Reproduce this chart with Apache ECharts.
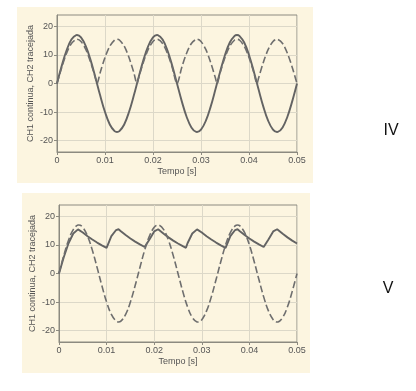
<!DOCTYPE html>
<html><head><meta charset="utf-8">
<script src="https://cdn.jsdelivr.net/npm/echarts@6/dist/echarts.min.js"></script>
<style>html,body{margin:0;padding:0;background:#fff}#c{width:416px;height:391px}</style>
</head><body><div id="c"></div>
<script>
// time samples (s), ~1 ms, with the peaks included
const timeSine = [0,0.001,0.002,0.003,0.004,0.00417,0.005,0.006,0.007,0.008,0.009,0.010,0.011,0.012,0.0125,0.013,0.014,0.015,0.016,0.017,0.018,0.019,0.020,0.02083,0.021,0.022,0.023,0.024,0.025,0.026,0.027,0.028,0.029,0.02917,0.030,0.031,0.032,0.033,0.034,0.035,0.036,0.037,0.0375,0.038,0.039,0.040,0.041,0.042,0.043,0.044,0.045,0.04583,0.046,0.047,0.048,0.049,0.050];
// sine input voltage (used as CH1 in IV, CH2 in V)
const sineInput = [0,6.26,11.64,15.38,16.97,17,16.17,13.10,8.19,2.13,-4.23,-9.99,-14.35,-16.70,-17,-16.70,-14.35,-9.99,-4.23,2.13,8.19,13.10,16.17,17,16.97,15.38,11.64,6.26,0,-6.26,-11.64,-15.38,-16.97,-17,-16.17,-13.10,-8.19,-2.13,4.23,9.99,14.35,16.70,17,16.70,14.35,9.99,4.23,-2.13,-8.19,-13.10,-16.17,-17,-16.97,-15.38,-11.64,-6.26,0];

// IV: CH2 rectified output
const timeRectIV = [0,0.001,0.002,0.003,0.004,0.00417,0.005,0.006,0.007,0.008,0.008333,0.009,0.010,0.011,0.012,0.0125,0.013,0.014,0.015,0.016,0.016667,0.017,0.018,0.019,0.020,0.02083,0.021,0.022,0.023,0.024,0.025,0.026,0.027,0.028,0.029,0.02917,0.030,0.031,0.032,0.033,0.033333,0.034,0.035,0.036,0.037,0.0375,0.038,0.039,0.040,0.041,0.041667,0.042,0.043,0.044,0.045,0.04583,0.046,0.047,0.048,0.049,0.050];
const rectIV = [0,5.71,10.61,14.02,15.47,15.5,14.74,11.94,7.47,1.94,0,3.85,9.11,13.09,15.23,15.5,15.23,13.09,9.11,3.85,0,1.94,7.47,11.94,14.74,15.5,15.47,14.02,10.61,5.71,0,5.71,10.61,14.02,15.47,15.5,14.74,11.94,7.47,1.94,0,3.85,9.11,13.09,15.23,15.5,15.23,13.09,9.11,3.85,0,1.94,7.47,11.94,14.74,15.5,15.47,14.02,10.61,5.71,0];

// V: CH1 filtered output
const timeFiltV = [0,0.001,0.002,0.003,0.004,0.00417,0.005,0.006,0.007,0.008,0.009,0.010,0.011,0.012,0.0125,0.013,0.014,0.015,0.016,0.017,0.018,0.01833,0.019,0.020,0.02083,0.021,0.022,0.023,0.024,0.025,0.026,0.02667,0.027,0.028,0.029,0.02917,0.030,0.031,0.032,0.033,0.034,0.035,0.036,0.037,0.0375,0.038,0.039,0.040,0.041,0.042,0.043,0.04333,0.044,0.045,0.04583,0.046,0.047,0.048,0.049,0.050];
const filtV = [0,5.71,10.61,14.02,15.47,15.5,14.34,13.07,11.90,10.84,9.87,9.0,13.09,15.23,15.5,14.79,13.47,12.27,11.18,10.19,9.28,9.0,11.94,14.74,15.5,15.25,13.89,12.66,11.53,10.51,9.58,9.0,10.61,14.02,15.47,15.5,14.34,13.07,11.90,10.84,9.87,9.0,13.09,15.23,15.5,14.79,13.47,12.27,11.18,10.19,9.28,9.0,11.94,14.74,15.5,15.25,13.89,12.66,11.53,10.51];

const yTicks = [-20,-10,0,10,20];
const xName = 'Tempo [s]';
const yName = 'CH1 continua, CH2 tracejada';
const panelLabels = ['IV','V'];

const zip = (t, v) => t.map((x, i) => [x, v[i]]);

const txt = '#555';
const axisCol = '#8c8a80';
const font = 'Liberation Sans, Arial, sans-serif';
function xAxisCfg(gi) {
  return {
    gridIndex: gi, type: 'value', min: 0, max: 0.05, interval: 0.01,
    name: xName, nameLocation: 'middle', nameGap: 15, nameMoveOverlap: false,
    nameTextStyle: { color: txt, fontSize: 9, fontFamily: font },
    axisLine: { show: true, onZero: false, lineStyle: { color: axisCol, width: 1 } },
    axisTick: { show: true, length: 3, lineStyle: { color: axisCol } },
    axisLabel: { color: txt, fontSize: 9, fontFamily: font, margin: 4,
      formatter: v => v === 0 ? '0' : v.toFixed(2) },
    splitLine: { show: true, lineStyle: { color: '#dcd8c8', width: 1 } }
  };
}
function yAxisCfg(gi) {
  return {
    gridIndex: gi, type: 'value', min: -24, max: 24,
    name: yName, nameLocation: 'middle', nameRotate: 90, nameGap: 22, nameMoveOverlap: false,
    nameTextStyle: { color: txt, fontSize: 9, fontFamily: font },
    axisLine: { show: true, onZero: false, lineStyle: { color: axisCol, width: 1 } },
    axisTick: { show: true, length: 3, customValues: yTicks, lineStyle: { color: axisCol } },
    axisLabel: { color: txt, fontSize: 9, fontFamily: font, margin: 4, customValues: yTicks },
    splitLine: { show: true, lineStyle: { color: '#dcd8c8', width: 1 } }
  };
}
const solid = { color: '#636363', width: 1.9, type: 'solid' };
const dashed = { color: '#6e6e6e', width: 1.6, type: [7, 3] };

const chart = echarts.init(document.getElementById('c'), null, { renderer: 'canvas' });
chart.setOption({
  animation: false,
  backgroundColor: '#ffffff',
  graphic: [
    { type: 'rect', z: -10, shape: { x: 17, y: 7, width: 296, height: 176 }, style: { fill: '#fcf5e0' } },
    { type: 'rect', z: -10, shape: { x: 22, y: 193, width: 288, height: 180 }, style: { fill: '#fcf5e0' } },
    { type: 'text', x: 391, y: 131, style: { text: panelLabels[0], fill: '#111', font: '16px Liberation Sans, Arial, sans-serif', align: 'center', verticalAlign: 'middle' } },
    { type: 'text', x: 388, y: 289, style: { text: panelLabels[1], fill: '#111', font: '16px Liberation Sans, Arial, sans-serif', align: 'center', verticalAlign: 'middle' } }
  ],
  grid: [
    { left: 57, top: 15, width: 240, height: 137, show: true, borderColor: axisCol, borderWidth: 1, backgroundColor: 'transparent' },
    { left: 59, top: 205, width: 238, height: 137, show: true, borderColor: axisCol, borderWidth: 1, backgroundColor: 'transparent' }
  ],
  xAxis: [xAxisCfg(0), xAxisCfg(1)],
  yAxis: [yAxisCfg(0), yAxisCfg(1)],
  series: [
    { type: 'line', xAxisIndex: 0, yAxisIndex: 0, data: zip(timeSine, sineInput), showSymbol: false, smooth: 0.4, lineStyle: solid },
    { type: 'line', xAxisIndex: 0, yAxisIndex: 0, data: zip(timeRectIV, rectIV), showSymbol: false, smooth: 0.3, lineStyle: dashed },
    { type: 'line', xAxisIndex: 1, yAxisIndex: 1, data: zip(timeFiltV, filtV), showSymbol: false, smooth: false, lineStyle: solid },
    { type: 'line', xAxisIndex: 1, yAxisIndex: 1, data: zip(timeSine, sineInput), showSymbol: false, smooth: 0.4, lineStyle: dashed }
  ]
});
</script>
</body></html>
